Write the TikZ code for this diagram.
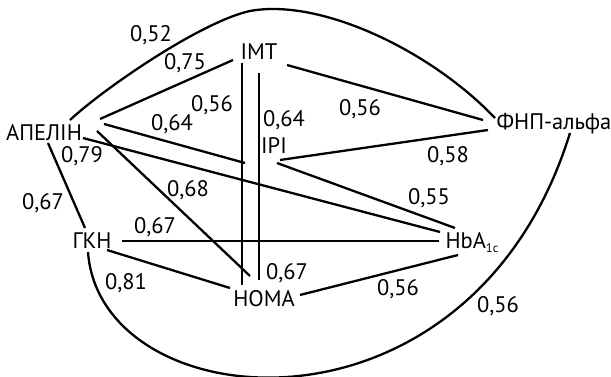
\documentclass[tikz,border=0pt]{standalone}
\usepackage{fontspec}
\setmainfont{PT Sans}
\usetikzlibrary{calc}

\begin{document}
\begin{tikzpicture}[
    x=1pt, y=-1pt,
    font=\fontsize{22.5}{26}\selectfont,
    var/.style={inner sep=0pt, text height=15.5pt, text depth=0pt},
    coef/.style={inner sep=0pt, text height=15.5pt, text depth=0pt},
    link/.style={line width=2.3pt},
  ]
    \useasboundingbox (0,0) rectangle (611,377);

    % markers
    \node[var] (apelin) at (44,133) {АПЕЛІН};
    \node[var] (imt) at (259,52) {IMT};
    \node[var] (ipi) at (274,146) {IPI};
    \node[var] (fnp) at (554,122) {ФНП-альфа};
    \node[var] (gkn) at (92,241) {ГКН};
    \node[var] (hba) at (472,241) {HbA\raisebox{-4pt}{\fontsize{12.5}{13}\selectfont 1c}};
    \node[var] (homa) at (264,299) {HOMA};

    % correlations
    \draw[link] ($(apelin)+(26,-13)$) .. controls (102,90) and (200,22) .. (250,11)
      .. controls (320,-2) and (430,50) .. ($(fnp)+(-59,-4)$);
    \draw[link] ($(apelin)+(56,-14)$) -- ($(imt)+(-26,8)$);
    \draw[link] ($(apelin)+(60,-9)$) -- ($(ipi)+(-29,17)$);
    \draw[link] ($(apelin)+(53,-2)$) -- ($(homa)+(-14,-23)$);
    \draw[link] ($(apelin)+(39,5)$) -- ($(hba)+(-32,-9)$);
    \draw[link] ($(apelin)+(4,10)$) -- ($(gkn)+(-7,-13)$);
    \draw[link] ($(imt)+(-17,11)$) -- ($(homa)+(-22,-14)$);
    \draw[link] ($(imt)+(0,21)$) -- ($(homa)+(-5,-19)$);
    \draw[link] ($(imt)+(28,13)$) -- ($(fnp)+(-71,-2)$);
    \draw[link] ($(ipi)+(6,14)$) -- ($(fnp)+(-66,8)$);
    \draw[link] ($(ipi)+(3,17)$) -- ($(hba)+(-17,-13)$);
    \draw[link] ($(gkn)+(30,0)$) -- ($(hba)+(-33,0)$);
    \draw[link] ($(gkn)+(15,9)$) -- ($(homa)+(-34,-11)$);
    \draw[link] ($(homa)+(36,-4)$) -- ($(hba)+(-14,14)$);
    \draw[link] ($(gkn)+(-4,11)$) .. controls (100,420) and (470,455) .. ($(fnp)+(16,11)$);

    % coefficients
    \node[coef] (c1) at (151,34) {0,52};
    \node[coef] (c2) at (185,62) {0,75};
    \node[coef] (c3) at (212,104) {0,56};
    \node[coef] (c4) at (172,123) {0,64};
    \node[coef] (c5) at (284,119) {0,64};
    \node[coef] (c6) at (82,155) {0,79};
    \node[coef] (c7) at (360,108) {0,56};
    \node[coef] (c8) at (448,155) {0,58};
    \node[coef] (c9) at (188,189) {0,68};
    \node[coef] (c10) at (429,197) {0,55};
    \node[coef] (c11) at (43,202) {0,67};
    \node[coef] (c12) at (155,226) {0,67};
    \node[coef] (c13) at (126,282) {0,81};
    \node[coef] (c14) at (287,272) {0,67};
    \node[coef] (c15) at (398,288) {0,56};
    \node[coef] (c16) at (498,305) {0,56};
\end{tikzpicture}
\end{document}
